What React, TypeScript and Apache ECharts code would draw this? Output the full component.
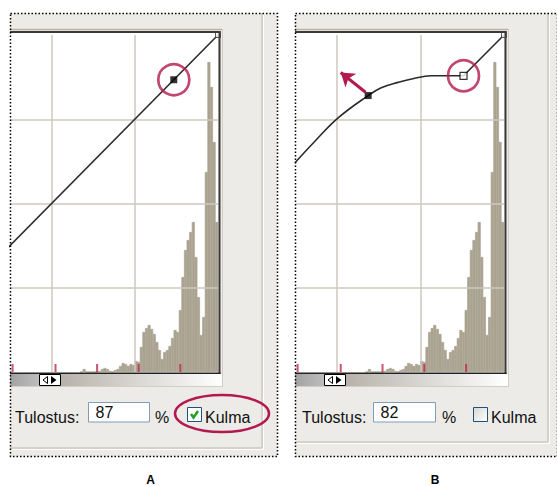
import React, { useEffect, useRef } from 'react';
import * as echarts from 'echarts';

// ---- data ----
const AXIS_MIN = 96;
const AXIS_MAX = 256;
const gridTicks = [64, 128, 192];
const diagonalA = [[0, 0], [256, 256]];
const pointA = [[222, 222]];
const curveB = [[96, 159], [110, 174], [129, 193], [152, 210], [162, 216], [175, 220], [187, 223], [200, 225], [213, 225], [225, 225]];
const segmentB = [[225, 225], [256, 256]];
const pointB = [[152, 210]];
const cornerB = [[225, 225]];
const endPoint = [[256, 256]];
const arrowB = [[150, 212.5], [131, 227.5]];
const histStart = 150;
const histBin = 2;
const histogram = [0, 3, 0, 0, 0, 0, 0, 1, 3, 4, 3, 1, 0, 2, 3, 6, 9, 8, 6, 8, 7, 11, 10, 25, 40, 44, 47, 43, 38, 30, 22, 13, 20, 22, 26, 34, 42, 40, 62, 95, 122, 132, 140, 150, 115, 75, 37, 55, 200, 310, 285, 230, 150];
const zoneTicks = [98, 131, 163, 195, 227];
const outputValues = ['87', '82'];
const checkedValues = [true, false];
const panelLetters = ['A', 'B'];
const fieldLabel = 'Tulostus:';
const checkLabel = 'Kulma';

const RED = '#b3184f';
const FONT = "'Liberation Sans', Arial, sans-serif";
const HIST = '#aba391';

const histData = histogram.map((h, i) => [histStart + i * histBin + histBin / 2, h]);

type Layout = { L: number; R: number; plotRight: number; divider: number; bottomLine: number; labelX: number; inputX: number; inputW: number; pctX: number; boxX: number; kulmaX: number; letterX: number };
const layouts: Layout[] = [
  { L: 10, R: 277, plotRight: 218, divider: 262, bottomLine: 448, labelX: 15, inputX: 88.5, inputW: 61, pctX: 155, boxX: 187.5, kulmaX: 205, letterX: 150.5 },
  { L: 295, R: 557, plotRight: 504, divider: 548, bottomLine: 442, labelX: 302, inputX: 373.5, inputW: 62, pctX: 442, boxX: 473.5, kulmaX: 491, letterX: 435 },
];

function lineEl(x1: number, y1: number, x2: number, y2: number, stroke: string, lineWidth: number, z: number) {
  return { type: 'line', z, silent: true, shape: { x1, y1, x2, y2 }, style: { stroke, lineWidth } };
}

function textEl(x: number, y: number, text: string, z: number, extra: any = {}) {
  return { type: 'text', z, silent: true, x, y, style: { text, fill: '#111111', font: `16px ${FONT}`, textVerticalAlign: 'middle', verticalAlign: 'middle', ...extra } };
}

function chrome(i: number): any[] {
  const o = layouts[i];
  const els: any[] = [];
  // panel background
  els.push({ type: 'rect', z: 0, silent: true, shape: { x: o.L, y: 13, width: o.R - o.L, height: 444 }, style: { fill: '#ecebe8' } });
  // divider frame
  els.push(lineEl(o.divider, 13, o.divider, o.bottomLine, '#cdc9c1', 1.5, 1));
  els.push(lineEl(o.divider + 1.5, 13, o.divider + 1.5, o.bottomLine + 1.5, '#ffffff', 1, 1));
  els.push(lineEl(o.L, o.bottomLine, o.divider, o.bottomLine, '#cdc9c1', 1.5, 1));
  els.push(lineEl(o.L, o.bottomLine + 1.5, o.divider + 1.5, o.bottomLine + 1.5, '#ffffff', 1, 1));
  // plot white background
  els.push({ type: 'rect', z: 1, silent: true, shape: { x: o.L, y: 32, width: o.plotRight - o.L, height: 341 }, style: { fill: '#ffffff' } });
  // plot frame
  els.push(lineEl(o.L, 29.5, o.plotRight + 4, 29.5, '#bab29f', 1.5, 9));
  els.push(lineEl(o.L, 32, o.plotRight + 2.5, 32, '#3a3a3a', 2, 9));
  els.push(lineEl(o.plotRight + 1.5, 31, o.plotRight + 1.5, 374, '#3a3a3a', 2, 9));
  els.push(lineEl(o.plotRight + 4.5, 29, o.plotRight + 4.5, 387, '#d2cec6', 1, 9));
  els.push(lineEl(o.L, 373.2, o.plotRight + 2.5, 373.2, '#222222', 1.5, 9));
  // slider
  const sy = 374, sh = 12;
  els.push({ type: 'rect', z: 9, silent: true, shape: { x: o.L, y: sy, width: 29, height: sh }, style: { fill: { type: 'linear', x: 0, y: 0, x2: 1, y2: 0, colorStops: [{ offset: 0, color: '#a2a2a2' }, { offset: 1, color: '#bdbdbd' }] } } });
  els.push({ type: 'rect', z: 9, silent: true, shape: { x: o.L + 50, y: sy, width: o.plotRight + 4 - (o.L + 50), height: sh }, style: { fill: { type: 'linear', x: 0, y: 0, x2: 1, y2: 0, colorStops: [{ offset: 0, color: '#b6b2aa' }, { offset: 1, color: '#ffffff' }] } } });
  els.push({ type: 'rect', z: 10, silent: true, shape: { x: o.L + 29.5, y: sy + 0.5, width: 21, height: sh - 1 }, style: { fill: '#ffffff', stroke: '#000000', lineWidth: 1 } });
  els.push({ type: 'polygon', z: 11, silent: true, shape: { points: [[o.L + 33, sy + 6], [o.L + 37.5, sy + 2.5], [o.L + 37.5, sy + 9.5]] }, style: { fill: '#ffffff', stroke: '#000000', lineWidth: 1 } });
  els.push({ type: 'polygon', z: 11, silent: true, shape: { points: [[o.L + 41, sy + 2], [o.L + 46.5, sy + 6], [o.L + 41, sy + 10]] }, style: { fill: '#000000' } });
  els.push(lineEl(o.L, 386.5, o.plotRight + 4.5, 386.5, '#d2cec6', 1, 9));
  // controls
  els.push(textEl(o.labelX, 417, fieldLabel, 9));
  els.push({ type: 'rect', z: 9, silent: true, shape: { x: o.inputX, y: 402.5, width: o.inputW, height: 19.5 }, style: { fill: '#ffffff', stroke: '#7f9db9', lineWidth: 1 } });
  els.push(textEl(o.inputX + 7, 412.5, outputValues[i], 10));
  els.push(textEl(o.pctX, 417, '%', 9));
  const checked = checkedValues[i];
  els.push({ type: 'rect', z: 9, silent: true, shape: { x: o.boxX, y: 407.5, width: 14, height: 14 }, style: { fill: checked ? '#ffffff' : { type: 'linear', x: 0, y: 0, x2: 1, y2: 1, colorStops: [{ offset: 0, color: '#d8d7d0' }, { offset: 1, color: '#ffffff' }] }, stroke: '#1c5180', lineWidth: 1 } });
  if (checked) {
    els.push({ type: 'polyline', z: 10, silent: true, shape: { points: [[o.boxX + 3.5, 414], [o.boxX + 6, 417.5], [o.boxX + 10.5, 411]] }, style: { stroke: '#21a121', lineWidth: 2.5, fill: 'none' } });
  }
  els.push(textEl(o.kulmaX, 417, checkLabel, 9));
  // panel letter
  els.push({ type: 'text', z: 9, silent: true, x: o.letterX, y: 480, style: { text: panelLetters[i], fill: '#000000', font: `bold 12px ${FONT}`, align: 'center', textAlign: 'center', verticalAlign: 'middle', textVerticalAlign: 'middle' } });
  // dotted frame
  els.push({ type: 'rect', z: 12, silent: true, shape: { x: o.L + 0.5, y: 13.5, width: o.R - o.L, height: 443 }, style: { fill: 'none', stroke: '#000000', lineWidth: 1.5, lineDash: [1.5, 2] } });
  return els;
}

function panelSeries(i: number): any[] {
  const yc = i * 2;
  const yh = i * 2 + 1;
  const gridLines = {
    silent: true,
    symbol: ['none', 'none'],
    label: { show: false },
    emphasis: { disabled: true },
    lineStyle: { color: '#cdc9c1', width: 1.5, type: 'solid', opacity: 1 },
    data: [
      ...gridTicks.filter((t) => t > AXIS_MIN).map((t) => ({ xAxis: t })),
      ...gridTicks.map((t) => ({ yAxis: t })),
    ],
  };
  const lineStyle = { color: '#2b2b2b', width: 1.6 };
  const s: any[] = [
    { type: 'bar', xAxisIndex: i, yAxisIndex: yh, data: histData, barWidth: 3, itemStyle: { color: HIST, borderColor: HIST, borderWidth: 0.7 }, z: 3, silent: true },
    { type: 'scatter', xAxisIndex: i, yAxisIndex: yh, data: zoneTicks.map((v) => [v, 0]), symbol: 'rect', symbolSize: [2, 8], symbolOffset: [0, -4], itemStyle: { color: '#c0284f' }, z: 5, silent: true, clip: false },
  ];
  if (i === 0) {
    s.push({ type: 'line', xAxisIndex: 0, yAxisIndex: yc, data: diagonalA, showSymbol: false, lineStyle, z: 6, silent: true, markLine: gridLines });
    s.push({ type: 'scatter', xAxisIndex: 0, yAxisIndex: yc, data: pointA, symbol: 'rect', symbolSize: 7, itemStyle: { color: '#000000' }, z: 7, silent: true, clip: false });
    s.push({ type: 'scatter', xAxisIndex: 0, yAxisIndex: yc, data: pointA, symbol: 'circle', symbolSize: 31, itemStyle: { color: 'rgba(0,0,0,0)', borderColor: RED, borderWidth: 2.7 }, z: 8, silent: true, clip: false });
  } else {
    s.push({ type: 'line', xAxisIndex: 1, yAxisIndex: yc, data: curveB, smooth: 0.4, showSymbol: false, lineStyle, z: 6, silent: true, markLine: gridLines });
    s.push({ type: 'line', xAxisIndex: 1, yAxisIndex: yc, data: segmentB, showSymbol: false, lineStyle, z: 6, silent: true });
    s.push({ type: 'scatter', xAxisIndex: 1, yAxisIndex: yc, data: pointB, symbol: 'rect', symbolSize: 7, itemStyle: { color: '#000000' }, z: 7, silent: true, clip: false });
    s.push({ type: 'scatter', xAxisIndex: 1, yAxisIndex: yc, data: cornerB, symbol: 'rect', symbolSize: 7, itemStyle: { color: '#ffffff', borderColor: '#000000', borderWidth: 1.2 }, z: 7, silent: true, clip: false });
    s.push({ type: 'scatter', xAxisIndex: 1, yAxisIndex: yc, data: cornerB, symbol: 'circle', symbolSize: 31, itemStyle: { color: 'rgba(0,0,0,0)', borderColor: RED, borderWidth: 2.7 }, z: 8, silent: true, clip: false });
    s.push({ type: 'lines', coordinateSystem: 'cartesian2d', xAxisIndex: 1, yAxisIndex: yc, data: [{ coords: arrowB }], symbol: ['none', 'arrow'], symbolSize: 13, lineStyle: { color: RED, width: 3, opacity: 1 }, z: 8, silent: true });
  }
  s.push({ type: 'scatter', xAxisIndex: i, yAxisIndex: yc, data: endPoint, symbol: 'rect', symbolSize: 5, itemStyle: { color: '#ffffff', borderColor: '#333333', borderWidth: 1 }, z: 7, silent: true, clip: false });
  return s;
}

function buildOption(): any {
  return {
    animation: false,
    backgroundColor: '#ffffff',
    grid: [
      { left: 10, top: 35, width: 208, height: 337 },
      { left: 295, top: 35, width: 209, height: 337 },
    ],
    xAxis: [0, 1].map((g) => ({ gridIndex: g, type: 'value', min: AXIS_MIN, max: AXIS_MAX, show: false })),
    yAxis: [
      { gridIndex: 0, type: 'value', min: 0, max: 256, show: false },
      { gridIndex: 0, type: 'value', min: 0, max: 337, show: false },
      { gridIndex: 1, type: 'value', min: 0, max: 256, show: false },
      { gridIndex: 1, type: 'value', min: 0, max: 337, show: false },
    ],
    series: [...panelSeries(0), ...panelSeries(1)],
    graphic: {
      elements: [
        ...chrome(0),
        ...chrome(1),
        { type: 'ellipse', z: 12, silent: true, shape: { cx: 222, cy: 413.5, rx: 47, ry: 18.5 }, style: { fill: 'none', stroke: RED, lineWidth: 2.5 } },
      ],
    },
  };
}

export default function App() {
  const ref = useRef<HTMLDivElement>(null);
  useEffect(() => {
    if (!ref.current) return;
    const chart = echarts.init(ref.current, null, { renderer: 'svg' });
    chart.setOption(buildOption());
    return () => chart.dispose();
  }, []);
  return <div ref={ref} style={{ position: 'fixed', left: 0, top: 0, width: 557, height: 486 }} />;
}
